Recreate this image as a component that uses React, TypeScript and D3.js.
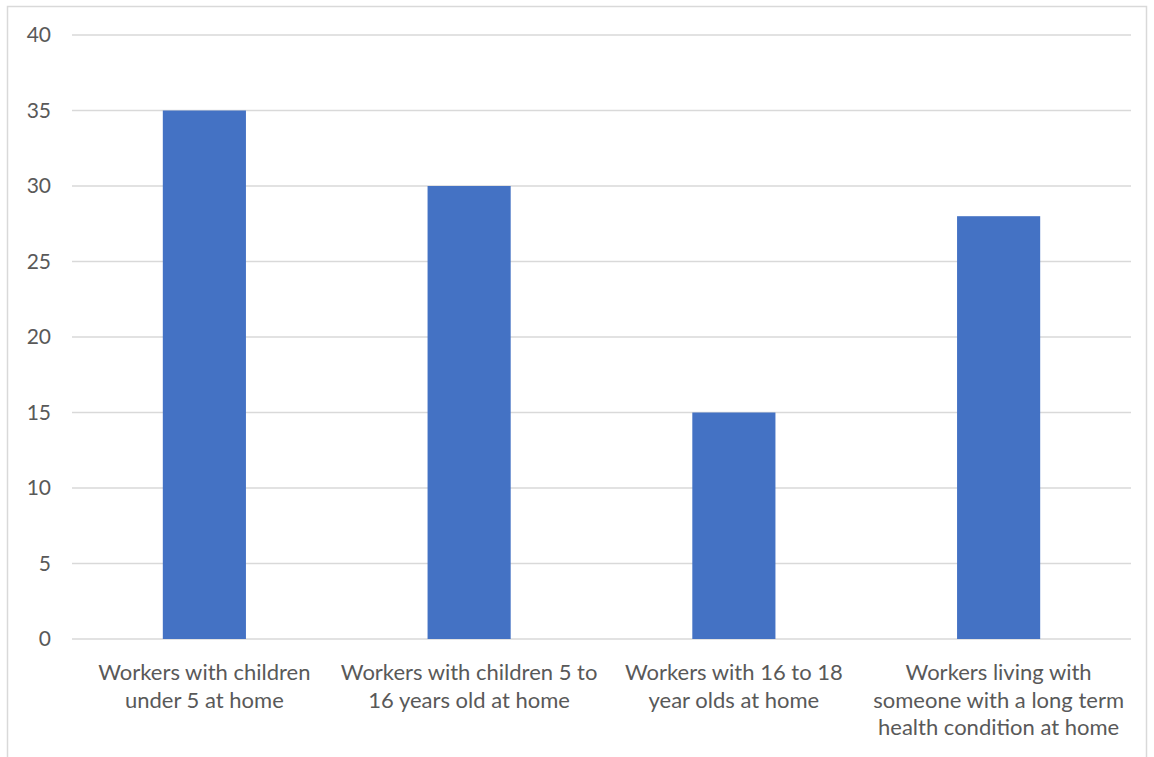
import React from "react";
import * as d3 from "d3";

const categories: string[][] = [
  ["Workers with children", "under 5 at home"],
  ["Workers with children 5 to", "16 years old at home"],
  ["Workers with 16 to 18", "year olds at home"],
  ["Workers living with", "someone with a long term", "health condition at home"],
];
const values: number[] = [35, 30, 15, 28];
const yTicks: number[] = [0, 5, 10, 15, 20, 25, 30, 35, 40];

const W = 1154;
const H = 757;
const left = 72;
const right = 1131;
const top = 35;
const bottom = 639;
const font = "Lato, 'Open Sans', sans-serif";
const textColor = "#595959";

export default function App() {
  const x = d3
    .scaleBand<number>()
    .domain(values.map((_, i) => i))
    .range([left, right])
    .paddingInner(0.686)
    .paddingOuter(0.343);
  const y = d3.scaleLinear().domain([0, 40]).range([bottom, top]);

  return (
    <svg
      width={W}
      height={H}
      style={{ position: "absolute", left: 0, top: 0, background: "#fff" }}
    >
      <rect x={7.5} y={6.5} width={1139} height={H} fill="#fff" stroke="#d9d9d9" strokeWidth={1.5} />
      {yTicks.map((t) => (
        <g key={t}>
          <line x1={left} x2={right} y1={y(t)} y2={y(t)} stroke="#d9d9d9" strokeWidth={1.5} />
          <text
            x={51}
            y={y(t)}
            dy="0.35em"
            textAnchor="end"
            fontFamily={font}
            fontSize={21}
            fill={textColor}
          >
            {t}
          </text>
        </g>
      ))}
      {values.map((v, i) => (
        <rect
          key={i}
          x={x(i)}
          y={y(v)}
          width={x.bandwidth()}
          height={y(0) - y(v)}
          fill="#4472C4"
        />
      ))}
      {categories.map((lines, i) => (
        <text
          key={i}
          x={(x(i) as number) + x.bandwidth() / 2}
          y={680}
          textAnchor="middle"
          fontFamily={font}
          fontSize={22}
          fill={textColor}
        >
          {lines.map((l, j) => (
            <tspan key={j} x={(x(i) as number) + x.bandwidth() / 2} dy={j === 0 ? 0 : 27.5}>
              {l}
            </tspan>
          ))}
        </text>
      ))}
    </svg>
  );
}
